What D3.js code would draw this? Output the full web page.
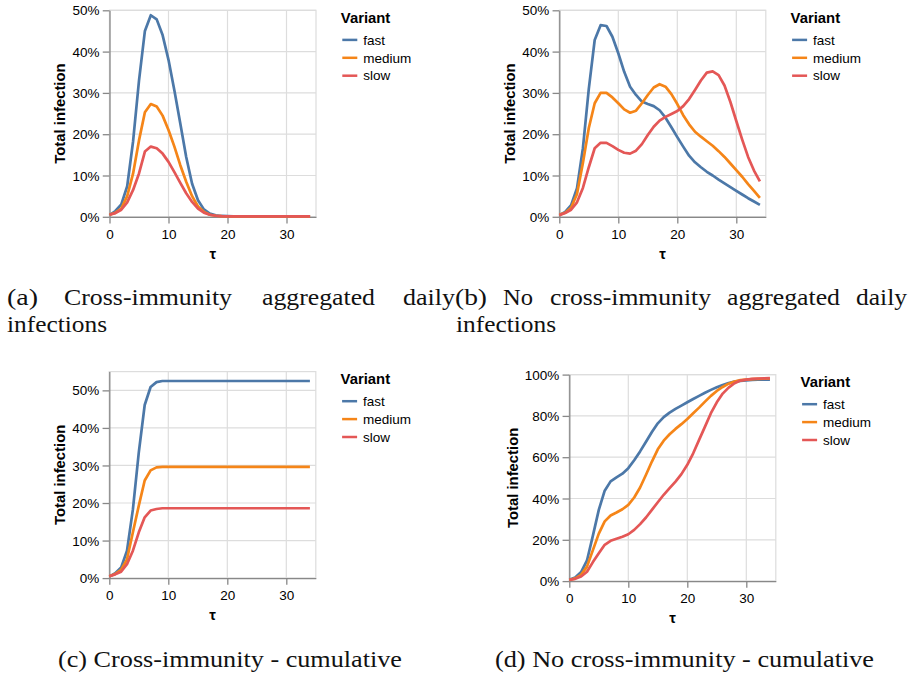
<!DOCTYPE html>
<html>
<head>
<meta charset="utf-8">
<script src="https://cdn.jsdelivr.net/npm/d3@7/dist/d3.min.js"></script>
<style>
  html, body { margin: 0; padding: 0; background: #fff; }
  svg { display: block; }
</style>
</head>
<body>
<svg id="chart" width="913" height="675"></svg>
<script>
// ---------------- DATA ----------------
const tau = [0,1,2,3,4,5,6,7,8,9,10,11,12,13,14,15,16,17,18,19,20,21,22,23,24,25,26,27,28,29,30,31,32,33,34];
const variants = ["fast", "medium", "slow"];
const xTicks = [0, 10, 20, 30];
const yTicks50 = [0, 10, 20, 30, 40, 50];
const yTicks100 = [0, 20, 40, 60, 80, 100];

// (a) Cross-immunity, aggregated daily infections (%)
const fastA   = [0.4,1.4,3.0,7.4,18.3,33.0,45.0,48.8,47.8,44.0,38.0,30.6,22.6,14.5,8.0,4.0,1.8,0.8,0.35,0.2,0.15,0.12,0.1,0.1,0.1,0.1,0.1,0.1,0.1,0.1,0.1,0.1,0.1,0.1,0.1];
const mediumA = [0.5,1.0,2.0,5.0,10.5,18.5,25.3,27.3,26.7,24.5,21.0,17.0,12.5,8.5,5.0,2.5,1.2,0.5,0.25,0.15,0.12,0.1,0.1,0.1,0.1,0.1,0.1,0.1,0.1,0.1,0.1,0.1,0.1,0.1,0.1];
const slowA   = [0.5,0.9,1.7,3.5,6.5,10.5,15.8,17.0,16.6,15.3,13.3,10.8,8.2,5.7,3.6,2.0,1.0,0.5,0.25,0.15,0.12,0.1,0.1,0.1,0.1,0.1,0.1,0.1,0.1,0.1,0.1,0.1,0.1,0.1,0.1];

// (b) No cross-immunity, aggregated daily infections (%)
const fastB   = [0.4,1.2,2.8,6.9,16.6,31.0,42.8,46.4,46.2,43.6,39.6,35.1,31.5,29.5,27.9,27.3,26.8,25.8,24.0,21.7,19.3,17.0,14.8,13.2,12.0,10.9,10.0,9.0,8.1,7.2,6.3,5.4,4.5,3.7,2.9];
const mediumB = [0.5,1.0,2.2,5.5,13.0,21.5,27.5,30.0,30.0,28.9,27.5,26.0,25.2,25.7,27.5,29.5,31.3,32.1,31.5,29.7,27.3,24.6,22.4,20.6,19.4,18.3,17.2,15.9,14.5,12.9,11.3,9.7,7.9,6.3,4.6];
const slowB   = [0.4,0.9,1.7,3.5,7.0,12.0,16.6,17.9,17.9,17.1,16.2,15.5,15.3,16.0,17.6,19.8,21.8,23.3,24.2,24.9,25.6,26.8,28.5,30.7,33.0,34.9,35.2,34.3,31.8,27.8,23.2,18.7,14.5,11.2,8.6];

// (c) Cross-immunity, cumulative (%)
const fastC   = [0.4,1.3,2.8,7.3,18.3,33.5,46.1,50.9,52.2,52.5,52.5,52.5,52.5,52.5,52.5,52.5,52.5,52.5,52.5,52.5,52.5,52.5,52.5,52.5,52.5,52.5,52.5,52.5,52.5,52.5,52.5,52.5,52.5,52.5,52.5];
const mediumC = [0.5,1.1,2.2,5.0,12.2,19.3,26.0,28.7,29.5,29.6,29.6,29.6,29.6,29.6,29.6,29.6,29.6,29.6,29.6,29.6,29.6,29.6,29.6,29.6,29.6,29.6,29.6,29.6,29.6,29.6,29.6,29.6,29.6,29.6,29.6];
const slowC   = [0.5,1.0,1.7,3.7,7.3,12.2,16.2,18.0,18.4,18.6,18.6,18.6,18.6,18.6,18.6,18.6,18.6,18.6,18.6,18.6,18.6,18.6,18.6,18.6,18.6,18.6,18.6,18.6,18.6,18.6,18.6,18.6,18.6,18.6,18.6];

// (d) No cross-immunity, cumulative (%)
const fastD   = [0.6,1.8,4.4,10.0,22.0,34.5,43.8,48.3,50.2,52.0,54.7,58.5,62.8,67.5,72.2,76.4,79.4,81.6,83.4,85.0,86.6,88.2,89.7,91.2,92.6,93.9,95.0,95.9,96.6,97.0,97.2,97.4,97.5,97.5,97.6];
const mediumD = [0.5,1.3,3.0,7.0,15.0,23.0,28.9,31.8,33.2,34.8,36.9,40.5,45.3,51.5,57.9,63.8,68.0,71.1,73.7,76.0,78.5,81.3,84.0,86.9,89.7,92.1,94.0,95.6,96.6,97.3,97.6,97.8,97.9,98.0,98.1];
const slowD   = [0.6,1.1,2.2,4.5,9.2,13.5,17.6,19.5,20.5,21.5,22.7,24.8,27.6,30.8,34.5,38.2,41.8,45.0,48.2,51.8,56.3,61.9,68.4,74.8,81.3,86.6,90.8,93.7,95.8,97.1,97.6,97.9,98.1,98.2,98.3];

// Captions (words with their measured positions are in the layout section)
const captionA1 = ["(a)", "Cross-immunity", "aggregated", "daily"];
const captionB1 = ["(b)", "No", "cross-immunity", "aggregated", "daily"];
const captionLine2 = "infections";
const captionC = "(c) Cross-immunity - cumulative";
const captionD = "(d) No cross-immunity - cumulative";

// ---------------- STYLE / LAYOUT ----------------
const colors = ["#4c78a8", "#f58518", "#e45756"];
const SANS = "'Liberation Sans', Arial, Helvetica, sans-serif";
const SERIF = "'Liberation Serif', 'Times New Roman', serif";
const W = 206.5, H = 206.5;
const LABEL_FS = 13.5, TITLE_FS = 14.85;

const svg = d3.select("#chart");

const panels = [
  { left: 109.5, top: 10.3,  ymax: 50,  yTicks: yTicks50,  series: [fastA, mediumA, slowA], titleOff: 44.5 },
  { left: 559.3, top: 10.3,  ymax: 50,  yTicks: yTicks50,  series: [fastB, mediumB, slowB], titleOff: 44.5 },
  { left: 109.3, top: 371.6, ymax: 55,  yTicks: yTicks50,  series: [fastC, mediumC, slowC], titleOff: 44.5 },
  { left: 569.3, top: 374.6, ymax: 100, yTicks: yTicks100, series: [fastD, mediumD, slowD], titleOff: 51.8 }
];

function drawPanel(p) {
  const g = svg.append("g");
  const x = d3.scaleLinear().domain([0, 35]).range([p.left, p.left + W]);
  const y = d3.scaleLinear().domain([0, p.ymax]).range([p.top + H, p.top]);

  // grid
  g.append("g").selectAll("line").data(xTicks).join("line")
    .attr("x1", d => x(d)).attr("x2", d => x(d))
    .attr("y1", p.top).attr("y2", p.top + H)
    .attr("stroke", "#ddd").attr("stroke-width", 1.2);
  g.append("g").selectAll("line").data(p.yTicks).join("line")
    .attr("x1", p.left).attr("x2", p.left + W)
    .attr("y1", d => y(d)).attr("y2", d => y(d))
    .attr("stroke", "#ddd").attr("stroke-width", 1.2);
  // view border
  g.append("rect").attr("x", p.left).attr("y", p.top).attr("width", W).attr("height", H)
    .attr("fill", "none").attr("stroke", "#ddd").attr("stroke-width", 1.2);

  // axes
  const ax = g.append("g").attr("transform", `translate(0,${p.top + H})`)
    .call(d3.axisBottom(x).tickValues(xTicks).tickSize(6.75).tickSizeOuter(0).tickFormat(d3.format("d")));
  ax.selectAll("text").attr("y", 22).attr("dy", null)
    .attr("font-family", SANS).attr("font-size", LABEL_FS).attr("fill", "#000");
  const ay = g.append("g").attr("transform", `translate(${p.left},0)`)
    .call(d3.axisLeft(y).tickValues(p.yTicks).tickSize(6.75).tickSizeOuter(0).tickFormat(d => d + "%"));
  ay.selectAll("text").attr("x", -10).attr("dy", "0.34em")
    .attr("font-family", SANS).attr("font-size", LABEL_FS).attr("fill", "#000");
  [ax, ay].forEach(a => {
    a.select(".domain").attr("stroke", "#888").attr("stroke-width", 1.3);
    a.selectAll(".tick line").attr("stroke", "#888").attr("stroke-width", 1.3);
  });

  // axis titles
  g.append("text").attr("x", p.left + W / 2).attr("y", p.top + H + 42.3)
    .attr("text-anchor", "middle").attr("font-family", SANS).attr("font-weight", "bold")
    .attr("font-size", TITLE_FS).text("τ");
  g.append("text")
    .attr("transform", `translate(${p.left - p.titleOff},${p.top + H / 2}) rotate(-90)`)
    .attr("text-anchor", "middle").attr("font-family", SANS).attr("font-weight", "bold")
    .attr("font-size", TITLE_FS).text("Total infection");

  // lines
  const line = d3.line().x((d, i) => x(tau[i])).y(d => y(d));
  p.series.forEach((s, k) => {
    g.append("path").datum(s).attr("d", line)
      .attr("fill", "none").attr("stroke", colors[k]).attr("stroke-width", 2.7)
      .attr("stroke-linejoin", "round").attr("stroke-linecap", "butt");
  });

  // legend
  const lx = p.left + W + 24.8;
  const lg = g.append("g");
  lg.append("text").attr("x", lx).attr("y", p.top + 12.3)
    .attr("font-family", SANS).attr("font-weight", "bold").attr("font-size", TITLE_FS).text("Variant");
  variants.forEach((v, k) => {
    const cy = p.top + 29.6 + k * 17.9;
    lg.append("line").attr("x1", lx + 1.5).attr("x2", lx + 16.5).attr("y1", cy).attr("y2", cy)
      .attr("stroke", colors[k]).attr("stroke-width", 2.5);
    lg.append("text").attr("x", lx + 22.5).attr("y", cy).attr("dy", "0.35em")
      .attr("font-family", SANS).attr("font-size", LABEL_FS).attr("fill", "#000").text(v);
  });
}

panels.forEach(drawPanel);

// ---------------- CAPTIONS ----------------
const cap = svg.append("g").attr("font-family", SERIF).attr("font-size", 24).attr("fill", "#111");
const a1x = [7, 64, 262, 403], a1w = [31, 168, 113, 52];
const b1x = [455, 503, 550, 727, 856], b1w = [32, 30, 161, 113, 51];
captionA1.forEach((w, i) => cap.append("text").attr("x", a1x[i]).attr("y", 305)
  .attr("textLength", a1w[i]).attr("lengthAdjust", "spacingAndGlyphs").text(w));
captionB1.forEach((w, i) => cap.append("text").attr("x", b1x[i]).attr("y", 305)
  .attr("textLength", b1w[i]).attr("lengthAdjust", "spacingAndGlyphs").text(w));
[7, 456].forEach(xx => cap.append("text").attr("x", xx).attr("y", 332)
  .attr("textLength", 100).attr("lengthAdjust", "spacingAndGlyphs").text(captionLine2));
cap.append("text").attr("x", 58).attr("y", 667).attr("textLength", 344)
  .attr("lengthAdjust", "spacingAndGlyphs").text(captionC);
cap.append("text").attr("x", 495).attr("y", 667).attr("textLength", 379)
  .attr("lengthAdjust", "spacingAndGlyphs").text(captionD);
</script>
</body>
</html>
